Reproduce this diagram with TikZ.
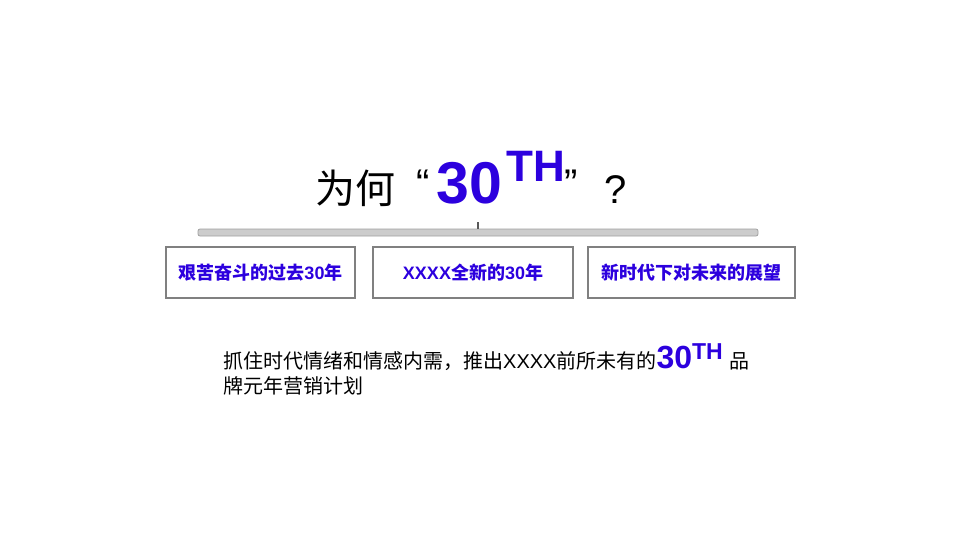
\documentclass[tikz,border=0pt]{standalone}
\usepackage{fontspec}
\setmainfont{Liberation Sans}
\newfontfamily\cjk{Noto Sans CJK SC}
\usetikzlibrary{positioning}
\definecolor{accent}{RGB}{44,0,222}
\definecolor{boxline}{RGB}{128,128,128}
\definecolor{bracefill}{RGB}{204,204,204}
\definecolor{braceline}{RGB}{160,160,160}
\tikzset{
	topicbox/.style={draw=boxline,line width=1.1pt,minimum height=51pt,inner sep=0pt,
		font=\fontsize{18}{20}\selectfont\bfseries,text=accent},
	textline/.style={anchor=base west,inner sep=0pt,font=\fontsize{20}{24}\selectfont}
}

\begin{document}
\begin{tikzpicture}[x=1pt,y=-1pt]
	\useasboundingbox (0,0) rectangle (960,540);
	% title
	\node [anchor=base west,inner sep=0pt,font=\fontsize{40}{44}\selectfont\cjk] (why) at (315,204) {为何};
	\node [anchor=base west,inner sep=0pt,font=\fontsize{40}{44}\selectfont] (lq) at (416,197) {“};
	\node [anchor=base west,inner sep=0pt,font=\fontsize{59}{64}\selectfont\bfseries,text=accent] (num) at (436,203) {30};
	\node [anchor=base west,inner sep=0pt,font=\fontsize{44}{48}\selectfont\bfseries,text=accent] (th) at (506,182) {TH};
	\node [anchor=base west,inner sep=0pt,font=\fontsize{40}{44}\selectfont] (rq) at (564,197) {”};
	\node [anchor=base west,inner sep=0pt,font=\fontsize{40}{44}\selectfont] (qm) at (604,204) {?};
	% brace
	\coordinate (braceL) at (198,229);
	\coordinate (braceR) at (758,236);
	\coordinate (braceTip) at (478,222);
	\draw [draw=braceline,fill=bracefill,line width=0.8pt,rounded corners=2pt] (braceL) rectangle (braceR);
	\draw [draw=gray!70!black,line width=1.4pt] (braceTip) -- (478,229);
	% topics
	\node [topicbox,minimum width=189pt] (past) at (260.5,272.5) {{\cjk 艰苦奋斗的过去}30{\cjk 年}};
	\node [topicbox,minimum width=200pt] (new) at (473,272.5) {XXXX{\cjk 全新的}30{\cjk 年}};
	\node [topicbox,minimum width=207pt] (future) at (691.5,272.5) {\cjk 新时代下对未来的展望};
	% summary
	\node [textline] (line1) at (223,368) {{\cjk 抓住时代情绪和情感内需，推出}XXXX{\cjk 前所未有的}{\fontsize{32}{36}\selectfont\bfseries\color{accent}30\raisebox{9pt}{\fontsize{23}{26}\selectfont TH}}\hspace{7pt}{\cjk 品}};
	\node [textline] (line2) at (223,393) {\cjk 牌元年营销计划};
\end{tikzpicture}
\end{document}
